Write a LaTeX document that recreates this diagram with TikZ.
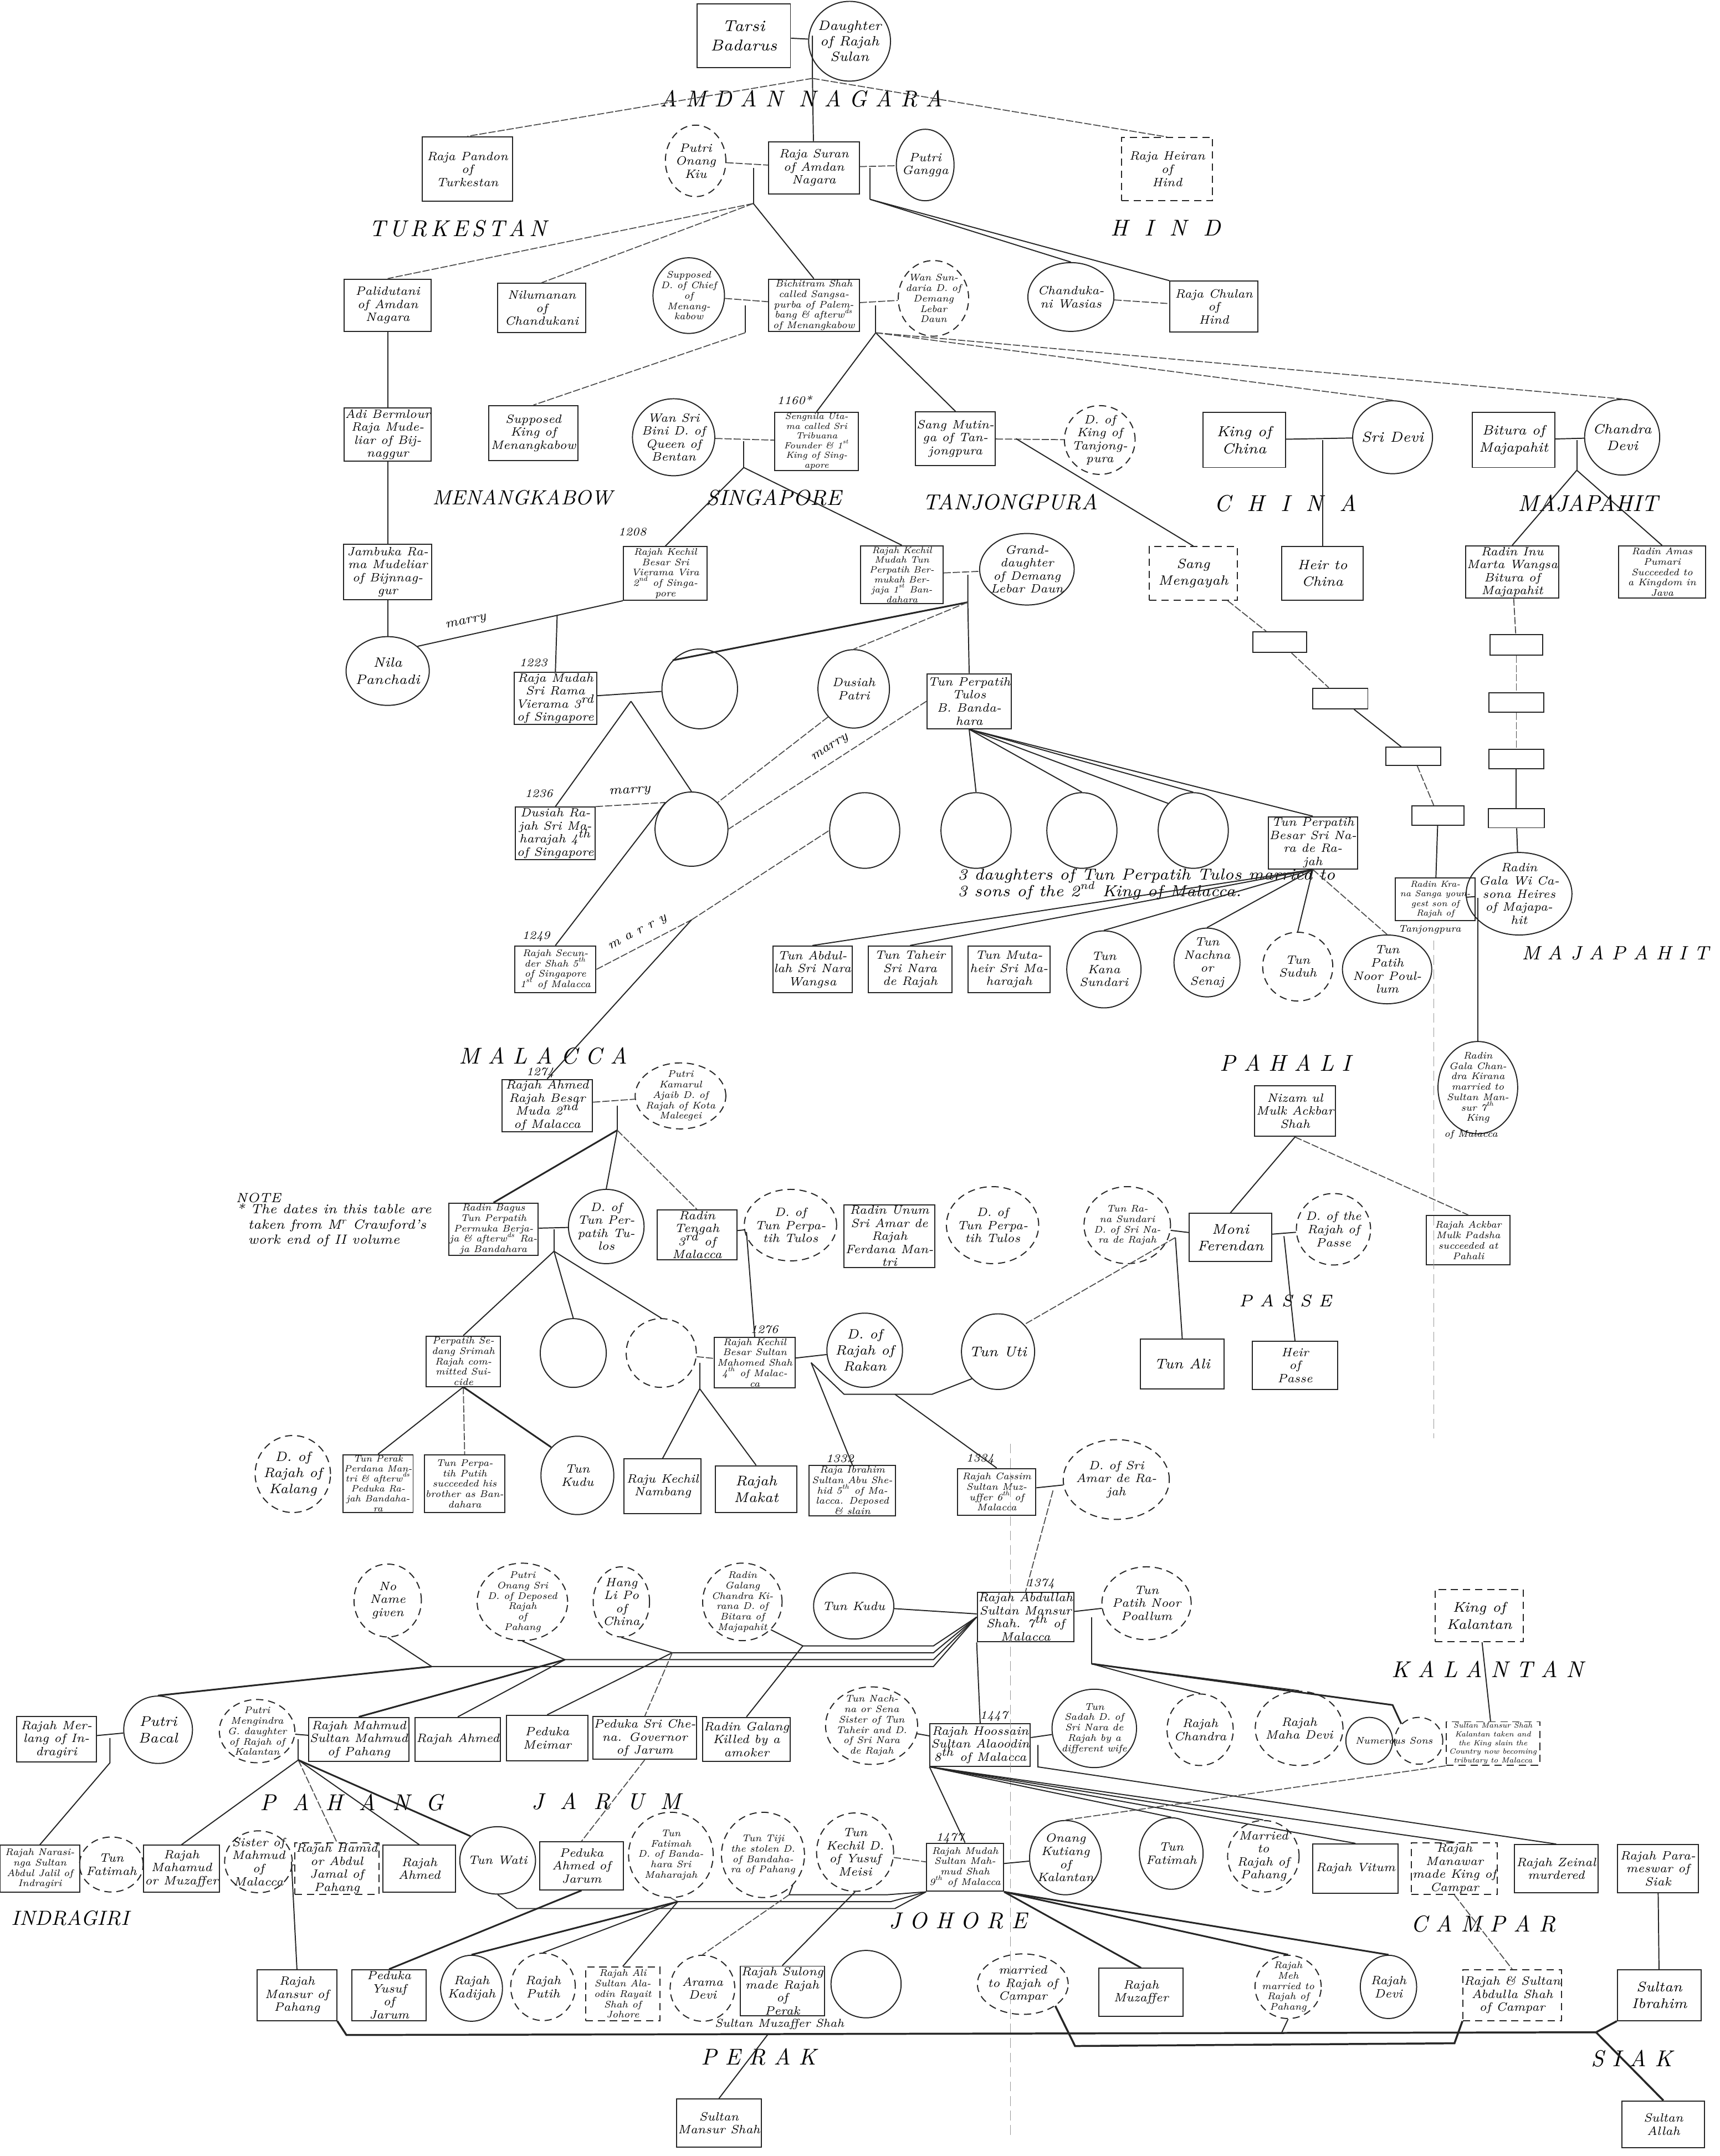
\documentclass[tikz,border=0pt]{standalone}
\usepackage{tikz}
\usetikzlibrary{shapes.geometric,calc}
\newcommand{\sps}[1]{\smash{\textsuperscript{#1}}}
\tikzset{
  kin/.style  ={rectangle, draw=black!85, line width=0.45pt, inner sep=0.4pt,
                align=center, font=\itshape\fontsize{5}{5.4}\selectfont},
  wife/.style ={ellipse, draw=black!85, line width=0.45pt, inner sep=-1.2pt,
                align=center, font=\itshape\fontsize{5}{5.4}\selectfont},
  veil/.style ={densely dashed},
  sz/.style 2 args={minimum width=#1*0.2mm, minimum height=#2*0.2mm},
  dense/.style={font=\itshape\fontsize{4}{4.3}\selectfont},
  tie/.style  ={draw=black!85, line width=0.45pt},
  wed/.style  ={draw=black!70, line width=0.4pt, dash pattern=on 3pt off 0.8pt},
  realm/.style={font=\itshape\fontsize{9.5}{10}\selectfont},
  yr/.style   ={font=\itshape\fontsize{4.8}{5}\selectfont},
  guide/.style={draw=black!40, line width=0.3pt, dash pattern=on 4pt off 2pt}
}

\begin{document}
\begin{tikzpicture}[x=0.2mm, y=-0.2mm]
  \useasboundingbox[fill=white] (0,0) rectangle (1251,1568);

  \node[kin, sz={68}{46}, font=\itshape\fontsize{6.5}{8}\selectfont] (tarsi) at (541,26) {Tarsi\\Badarus};
  \node[wife, sz={54}{58}, font=\itshape\fontsize{5.6}{6.4}\selectfont] (dSulan) at (618,30) {Daughter\\of Rajah\\Sulan};
  \node[kin, sz={66}{47}] (pandon) at (340,123) {Raja Pandon\\of\\Turkestan};
  \node[wife, veil, sz={44}{52}] (onangKiu) at (506,117) {Putri\\Onang\\Kiu};
  \node[kin, sz={66}{38}] (suran) at (592,122) {Raja Suran\\of Amdan\\Nagara};
  \node[wife, sz={42}{52}] (gangga) at (673,120) {Putri\\Gangga};
  \node[kin, veil, sz={66}{46}] (heiran) at (849,123) {Raja Heiran\\of\\Hind};

  \node[kin, sz={63}{38}] (palidutani) at (282,222) {Palidutani\\of Amdan\\Nagara};
  \node[kin, sz={64}{36}] (nilumanan) at (394,224) {Nilumanan\\of\\Chandukani};
  \node[wife, dense, sz={52}{55}] (supposedD) at (501,215) {Supposed\\D. of Chief\\of\\Menang-\\kabow};
  \node[kin, dense, sz={66}{35}] (bichitram) at (592,222) {Bichitram Shah\\called Sangsa-\\purba of Palem-\\bang \& afterw\sps{ds}\\of Menangkabow};
  \node[wife, dense, veil, sz={47}{55}] (wanSundaria) at (679,217) {Wan Sun-\\daria D. of\\Demang\\Lebar\\Daun};
  \node[wife, sz={43}{50}] (chandukani) at (779,216) {Chanduka-\\ni Wasias};
  \node[kin, sz={64}{37}] (chulan) at (883,223) {Raja Chulan\\of\\Hind};

  \node[kin, sz={63}{39}] (adiBermlour) at (282,316) {Adi Bermlour\\Raja Mude-\\liar of Bij-\\naggur};
  \node[kin, sz={65}{40}] (supKing) at (388,315) {Supposed\\King of\\Menangkabow};
  \node[wife, sz={54}{56}] (wanSriBini) at (490,318) {Wan Sri\\Bini D. of\\Queen of\\Bentan};
  \node[kin, font=\itshape\fontsize{3.7}{4}\selectfont, sz={61}{42}] (sengnila) at (594,321) {Sengnila Uta-\\ma called Sri\\Tribuana\\Founder \& 1\sps{st}\\King of Sing-\\apore};
  \node[kin, sz={54}{39}] (sangMutinga) at (695,319) {Sang Mutin-\\ga of Tan-\\jongpura};
  \node[wife, veil, sz={41}{50}] (dTanjong) at (800,320) {D. of\\King of\\Tanjong-\\pura};
  \node[kin, sz={60}{40}, font=\itshape\fontsize{6}{7}\selectfont] (kingChina) at (905,320) {King of\\China};
  \node[wife, sz={50}{53}, font=\itshape\fontsize{6}{7}\selectfont] (sriDevi) at (1013,318) {Sri Devi};
  \node[kin, sz={60}{40}, font=\itshape\fontsize{5.6}{7}\selectfont] (bitura) at (1101,320) {Bitura of\\Majapahit};
  \node[wife, sz={45}{55}, font=\itshape\fontsize{5.6}{7}\selectfont] (chandraDevi) at (1180,318) {Chandra\\Devi};

  \node[kin, sz={64}{40}] (jambuka) at (282,416) {Jambuka Ra-\\ma Mudeliar\\of Bijnnag-\\gur};
  \node[kin, dense, sz={61}{39}] (kechilBesar) at (484,417) {Rajah Kechil\\Besar Sri\\Vierama Vira\\2\sps{nd} of Singa-\\pore};
  \node[kin, font=\itshape\fontsize{3.8}{4.1}\selectfont, sz={60}{39}] (kechilMuda) at (656,418) {Rajah Kechil\\Mudah Tun\\Perpatih Ber-\\mukah Ber-\\jaja 1\sps{st} Ban-\\dahara};
  \node[wife, sz={50}{52}] (grandD) at (747,414) {Grand-\\daughter\\of Demang\\Lebar Daun};
  \node[kin, veil, sz={64}{39}, font=\itshape\fontsize{5.6}{7}\selectfont] (mengayah) at (868,417) {Sang\\Mengayah};
  \node[kin, sz={59}{39}, font=\itshape\fontsize{5.6}{7}\selectfont] (heirChina) at (962,417) {Heir to\\China};
  \node[kin, sz={62}{38}] (radinInu) at (1100,416) {Radin Inu\\Marta Wangsa\\Bitura of\\Majapahit};
  \node[kin, dense, sz={63}{38}] (radinAmas) at (1209,416) {Radin Amas\\Pumari\\Succeeded to\\a Kingdom in\\Java};

  \node[kin, sz={39}{15}] (tb1) at (931,467) {};
  \node[kin, sz={40}{15}] (tb2) at (975,508) {};
  \node[kin, sz={40}{13}] (tb3) at (1028,550) {};
  \node[kin, sz={38}{14}] (tb4) at (1046,593) {};
  \node[kin, sz={38}{15}] (mb1) at (1103,469) {};
  \node[kin, sz={40}{14}] (mb2) at (1103,511) {};
  \node[kin, sz={40}{14}] (mb3) at (1103,552) {};
  \node[kin, sz={41}{14}] (mb4) at (1103,595) {};

  \node[wife, sz={50}{50}, font=\itshape\fontsize{5.6}{7}\selectfont] (nila) at (282,488) {Nila\\Panchadi};
  \node[kin, sz={60}{37}] (rajaMudah3) at (404,508) {Raja Mudah\\Sri Rama\\Vierama 3\sps{rd}\\of Singapore};
  \node[wife, sz={55}{58}] (circA) at (509,501) {};
  \node[wife, sz={52}{57}] (dusiahPatri) at (621,501) {Dusiah\\Patri};
  \node[kin, sz={61}{40}] (tulos) at (705,510) {Tun Perpatih\\Tulos\\B. Banda-\\hara};

  \node[kin, sz={58}{38}] (dusiahRajah) at (404,606) {Dusiah Ra-\\jah Sri Ma-\\harajah 4\sps{th}\\of Singapore};
  \node[wife, sz={53}{54}] (circB) at (503,603) {};
  \node[wife, sz={51}{55}] (circC) at (629,604) {};
  \node[wife, sz={51}{55}] (circD) at (710,604) {};
  \node[wife, sz={51}{55}] (circE) at (787,604) {};
  \node[wife, sz={51}{55}] (circF) at (868,604) {};
  \node[kin, sz={62}{38}] (perpatihBesar) at (955,613) {Tun Perpatih\\Besar Sri Na-\\ra de Ra-\\jah};
  \node[align=left, font=\itshape\fontsize{6.6}{7}\selectfont] (note3) at (834,643) {3 daughters of Tun Perpatih Tulos married to\\3 sons of the 2\sps{nd} King of Malacca.};
  \node[kin, font=\itshape\fontsize{3.6}{4}\selectfont, sz={58}{31}] (radinKrana) at (1044,654) {Radin Kra-\\na Sanga youn-\\gest son of\\Rajah of};
  \node[dense] (kranaTxt) at (1040,676) {Tanjongpura};
  \node[wife, sz={58}{60}] (radinGala) at (1105,650) {Radin\\Gala Wi Ca-\\sona Heires\\of Majapa-\\hit};

  \node[yr] (yr1249) at (390,681) {1249};
  \node[kin, dense, sz={59}{34}] (secunder) at (404,705) {Rajah Secun-\\der Shah 5\sps{th}\\of Singapore\\1\sps{st} of Malacca};
  \node[kin, sz={57}{34}] (abdullahW) at (591,705) {Tun Abdul-\\lah Sri Nara\\Wangsa};
  \node[kin, sz={61}{34}] (taheir) at (662,705) {Tun Taheir\\Sri Nara\\de Rajah};
  \node[kin, sz={60}{34}] (mutaheir) at (734,705) {Tun Muta-\\heir Sri Ma-\\harajah};
  \node[wife, sz={54}{56}] (kanaSundari) at (803,705) {Tun\\Kana\\Sundari};
  \node[wife, sz={48}{50}] (nachna) at (878,700) {Tun\\Nachna\\or\\Senaj};
  \node[wife, veil, sz={51}{50}] (suduh) at (944,703) {Tun\\Suduh};
  \node[wife, sz={51}{50}] (noorPoulum) at (1009,705) {Tun\\Patih\\Noor Poul-\\lum};

  \node[wife, dense, sz={56}{56}] (radinGalaChandra) at (1075,791) {Radin\\Gala Chan-\\dra Kirana\\married to\\Sultan Man-\\sur 7\sps{th}\\King};
  \node[dense] (galaTxt) at (1070,825) {of Malacca};
  \node[kin, sz={59}{37}] (nizam) at (942,808) {Nizam ul\\Mulk Ackbar\\Shah};

  \node[yr] (yr1274) at (393,780) {1274};
  \node[kin, sz={66}{34}] (rajahAhmed) at (398,804) {Rajah Ahmed\\Rajah Besar\\Muda 2\sps{nd}\\of Malacca};
  \node[wife, dense, veil, sz={50}{48}] (putriKamar) at (495,797) {Putri\\Kamarul\\Ajaib D. of\\Rajah of Kota\\Maleegei};
  \node[font=\itshape\fontsize{5.5}{6}\selectfont] (noteHead) at (188,871) {NOTE};
  \node[align=left, font=\itshape\fontsize{5.5}{6.4}\selectfont] (noteBody) at (243,891) {* The dates in this table are\\\ \ taken from M\sps{r} Crawford's\\\ \ work end of II volume};
  \node[kin, dense, sz={62}{30}] (radinBagus) at (359,894) {Radin Bagus\\Tun Perpatih\\Permuka Berja-\\ja \& afterw\sps{ds} Ra-\\ja Bandahara};
  \node[wife, sz={55}{54}] (dTulos1) at (441,892) {D. of\\Tun Per-\\patih Tu-\\los};
  \node[kin, sz={58}{35}] (radinTengah) at (507,898) {Radin\\Tengah\\3\sps{rd} of\\Malacca};
  \node[wife, veil, sz={56}{52}] (dTulos2) at (575,891) {D. of\\Tun Perpa-\\tih Tulos};
  \node[kin, sz={66}{36}] (radinUnum) at (647,899) {Radin Unum\\Sri Amar de\\Rajah\\Ferdana Man-\\tri};
  \node[wife, veil, sz={55}{56}] (dTulos3) at (722,891) {D. of\\Tun Perpa-\\tih Tulos};
  \node[wife, dense, veil, sz={52}{56}] (ranaSundari) at (820,891) {Tun Ra-\\na Sundari\\D. of Sri Na-\\ra de Rajah};
  \node[kin, sz={60}{35}, font=\itshape\fontsize{5.8}{7}\selectfont] (moni) at (895,900) {Moni\\Ferendan};
  \node[wife, veil, sz={54}{52}] (dPasse) at (970,894) {D. of the\\Rajah of\\Passe};
  \node[kin, dense, sz={61}{36}] (ackbar) at (1068,902) {Rajah Ackbar\\Mulk Padsha\\succeeded at\\Pahali};

  \node[kin, dense, sz={54}{35}] (perpatihSedang) at (337,990) {Perpatih Se-\\dang Srimah\\Rajah com-\\mitted Sui-\\cide};
  \node[wife, sz={48}{50}] (circG) at (417,984) {};
  \node[wife, veil, sz={51}{50}] (circH) at (481,984) {};
  \node[yr] (yr1276) at (556,967) {1276};
  \node[kin, dense, sz={59}{36}] (mahomedShah) at (549,991) {Rajah Kechil\\Besar Sultan\\Mahomed Shah\\4\sps{th} of Malac-\\ca};
  \node[wife, sz={55}{54}, font=\itshape\fontsize{5.6}{6.6}\selectfont] (dRakan) at (629,982) {D. of\\Rajah of\\Rakan};
  \node[wife, sz={51}{55}, font=\itshape\fontsize{5.8}{7}\selectfont] (tunUti) at (726,983) {Tun Uti};
  \node[kin, sz={61}{36}, font=\itshape\fontsize{5.8}{7}\selectfont] (tunAli) at (860,992) {Tun Ali};
  \node[kin, sz={62}{35}] (heirPasse) at (942,993) {Heir\\of\\Passe};

  \node[wife, veil, sz={54}{56}, font=\itshape\fontsize{5.6}{6.6}\selectfont] (dKalang) at (213,1072) {D. of\\Rajah of\\Kalang};
  \node[kin, font=\itshape\fontsize{3.8}{4.1}\selectfont, sz={51}{42}] (tunPerak) at (275,1079) {Tun Perak\\Perdana Man-\\tri \& afterw\sps{ds}\\Peduka Ra-\\jah Bandaha-\\ra};
  \node[kin, dense, sz={52}{42}] (tunPutih) at (338,1079) {Tun Perpa-\\tih Putih\\succeeded his\\brother as Ban-\\dahara};
  \node[wife, sz={53}{57}] (tunKudu1) at (420,1073) {Tun\\Kudu};
  \node[kin, sz={56}{40}] (rajuKechil) at (482,1081) {Raju Kechil\\Nambang};
  \node[kin, sz={59}{34}, font=\itshape\fontsize{5.8}{7}\selectfont] (rajahMakat) at (550,1083) {Rajah\\Makat};
  \node[yr] (yr1332) at (611,1061) {1332};
  \node[kin, dense, sz={63}{33}] (rajahIbrahim) at (620,1084) {Raja Ibrahim\\Sultan Abu She-\\hid 5\sps{th} of Ma-\\lacca. Deposed\\\& slain};
  \node[yr] (yr1334) at (713,1061) {1334};
  \node[kin, dense, sz={57}{34}] (rajahCassim) at (725,1085) {Rajah Cassim\\Sultan Muz-\\uffer 6\sps{th} of\\Malacca};
  \node[wife, veil, sz={58}{58}] (dSriAmar) at (812,1076) {D. of Sri\\Amar de Ra-\\jah};

  \node[wife, veil, sz={49}{53}] (noName) at (282,1164) {No\\Name\\given};
  \node[wife, dense, veil, sz={49}{51}] (putriOnang) at (380,1165) {Putri\\Onang Sri\\D. of Deposed\\Rajah\\of\\Pahang};
  \node[wife, veil, sz={41}{51}] (hangLiPo) at (452,1165) {Hang\\Li Po\\of\\China};
  \node[wife, dense, veil, sz={49}{51}] (radinGalang) at (540,1165) {Radin\\Galang\\Chandra Ki-\\rana D. of\\Bitara of\\Majapahit};
  \node[wife, sz={58}{48}] (tunKudu2) at (621,1168) {Tun Kudu};
  \node[yr] (yr1374) at (757,1152) {1374};
  \node[kin, sz={63}{36}] (abdullah) at (746,1176) {Rajah Abdullah\\Sultan Mansur\\Shah. 7\sps{th} of\\Malacca};
  \node[wife, veil, sz={49}{53}] (noorPoallum) at (834,1166) {Tun\\Patih Noor\\Poallum};
  \node[kin, veil, sz={64}{38}, font=\itshape\fontsize{5.8}{7}\selectfont] (kingKalantan) at (1076,1175) {King of\\Kalantan};

  \node[kin, sz={58}{33}] (merlang) at (41,1265) {Rajah Mer-\\lang of In-\\dragiri};
  \node[wife, sz={50}{49}, font=\itshape\fontsize{5.8}{7}\selectfont] (putriBacal) at (115,1258) {Putri\\Bacal};
  \node[wife, dense, veil, sz={50}{46}] (mengindra) at (187,1259) {Putri\\Mengindra\\G. daughter\\of Rajah of\\Kalantan};
  \node[kin, sz={68}{32}] (mahmudP) at (261,1265) {Rajah Mahmud\\Sultan Mahmud\\of Pahang};
  \node[kin, sz={58}{32}] (ahmedP) at (333,1265) {Rajah Ahmed};
  \node[kin, sz={59}{33}] (meimar) at (398,1264) {Peduka\\Meimar};
  \node[kin, sz={62}{31}] (sriChena) at (469,1264) {Peduka Sri Che-\\na. Governor\\of Jarum};
  \node[kin, sz={63}{32}] (galangK) at (543,1265) {Radin Galang\\Killed by a\\amoker};
  \node[wife, dense, veil, sz={59}{52}] (nachnaS) at (634,1255) {Tun Nach-\\na or Sena\\Sister of Tun\\Taheir and D.\\of Sri Nara\\de Rajah};
  \node[yr] (yr1447) at (723,1248) {1447};
  \node[kin, sz={60}{31}] (hoossain) at (713,1269) {Rajah Hoossain\\Sultan Alaoodin\\8\sps{th} of Malacca};
  \node[wife, dense, sz={54}{57}] (tunSadah) at (796,1257) {Tun\\Sadah D. of\\Sri Nara de\\Rajah by a\\different wife};
  \node[wife, veil, sz={43}{52}] (rajahChandra) at (873,1258) {Rajah\\Chandra};
  \node[wife, veil, sz={45}{54}] (mahaDevi) at (945,1257) {Rajah\\Maha Devi};
  \node[wife, sz={34}{34}] (sonsA) at (996,1266) {};
  \node[wife, veil, sz={35}{34}] (sonsB) at (1032,1266) {};
  \node[dense] (sonsTxt) at (1014,1266) {Numerous Sons};
  \node[kin, veil, sz={68}{31}, font=\itshape\fontsize{3.1}{3.6}\selectfont] (mansurShahK) at (1086,1268) {Sultan Mansur Shah\\Kalantan taken and\\the King slain the\\Country now becoming\\tributary to Malacca};

  \node[kin, dense, sz={58}{34}] (narasinga) at (29,1359) {Rajah Narasi-\\nga Sultan\\Abdul Jalil of\\Indragiri};
  \node[wife, veil, sz={39}{40}] (fatimahI) at (81,1356) {Tun\\Fatimah};
  \node[kin, sz={55}{34}] (mahamud) at (132,1359) {Rajah\\Mahamud\\or Muzaffer};
  \node[wife, veil, sz={44}{45}] (sisterM) at (188,1354) {Sister of\\Mahmud\\of\\Malacca};
  \node[kin, veil, sz={51}{34}] (hamid) at (245,1359) {Rajah Hamid\\or Abdul\\Jamal of\\Pahang};
  \node[kin, sz={53}{34}] (ahmedR) at (305,1359) {Rajah\\Ahmed};
  \node[wife, sz={43}{49}] (tunWati) at (362,1353) {Tun Wati};
  \node[kin, sz={61}{35}] (pedukaAhmed) at (423,1357) {Peduka\\Ahmed of\\Jarum};
  \node[wife, dense, veil, sz={51}{62}] (fatimahB) at (488,1349) {Tun\\Fatimah\\D. of Banda-\\hara Sri\\Maharajah};
  \node[wife, dense, veil, sz={54}{62}] (tunTiji) at (555,1349) {Tun Tiji\\the stolen D.\\of Bandaha-\\ra of Pahang};
  \node[wife, veil, sz={56}{57}] (tunKechil) at (622,1347) {Tun\\Kechil D.\\of Yusuf\\Meisi};
  \node[yr] (yr1477) at (691,1337) {1477};
  \node[kin, dense, sz={56}{35}] (rajahMudah9) at (702,1358) {Rajah Mudah\\Sultan Mah-\\mud Shah\\9\sps{th} of Malacca};
  \node[wife, sz={47}{54}] (onangKutiang) at (775,1351) {Onang\\Kutiang\\of\\Kalantan};
  \node[wife, sz={45}{52}] (fatimahK) at (852,1348) {Tun\\Fatimah};
  \node[wife, veil, sz={52}{52}] (marriedPahang) at (919,1350) {Married\\to\\Rajah of\\Pahang};
  \node[kin, sz={62}{36}] (vitum) at (986,1359) {Rajah Vitum};
  \node[kin, veil, sz={62}{36}] (manawar) at (1058,1359) {Rajah\\Manawar\\made King of\\Campar};
  \node[kin, sz={61}{35}] (zeinal) at (1132,1359) {Rajah Zeinal\\murdered};
  \node[kin, sz={59}{35}] (paramaswar) at (1206,1359) {Rajah Para-\\meswar of\\Siak};

  \node[kin, sz={58}{37}] (mansurP) at (216,1451) {Rajah\\Mansur of\\Pahang};
  \node[kin, sz={54}{37}] (pedukaYusuf) at (283,1451) {Peduka\\Yusuf\\of\\Jarum};
  \node[wife, sz={45}{48}] (kadijah) at (343,1446) {Rajah\\Kadijah};
  \node[wife, veil, sz={47}{49}] (putih) at (395,1445) {Rajah\\Putih};
  \node[kin, dense, veil, sz={54}{39}] (rajahAli) at (453,1450) {Rajah Ali\\Sultan Ala-\\odin Rayait\\Shah of\\Johore};
  \node[wife, veil, sz={47}{48}] (aramaDevi) at (511,1446) {Arama\\Devi};
  \node[kin, sz={52}{34}] (sulong) at (569,1448) {Rajah Sulong\\made Rajah\\of\\Perak};
  \node[font=\itshape\fontsize{4.8}{5}\selectfont] (muzShahTxt) at (567,1472) {Sultan Muzaffer Shah};
  \node[wife, sz={51}{49}] (circJ) at (630,1443) {};
  \node[wife, veil, sz={43}{44}] (marriedCampar) at (744,1443) {married\\to Rajah of\\Campar};
  \node[kin, sz={61}{35}] (muzaffer) at (830,1449) {Rajah\\Muzaffer};
  \node[wife, dense, veil, sz={43}{46}] (rajahMeh) at (937,1445) {Rajah\\Meh\\married to\\Rajah of\\Pahang};
  \node[wife, sz={41}{46}] (rajahDevi) at (1010,1445) {Rajah\\Devi};
  \node[kin, veil, sz={64}{37}] (abdullaShah) at (1100,1451) {Rajah \& Sultan\\Abdulla Shah\\of Campar};
  \node[kin, sz={61}{37}, font=\itshape\fontsize{5.8}{7}\selectfont] (ibrahim) at (1207,1451) {Sultan\\Ibrahim};
  \node[kin, sz={60}{35}] (mansurShah) at (523,1544) {Sultan\\Mansur Shah};
  \node[kin, sz={60}{34}] (sultanAllah) at (1210,1545) {Sultan\\Allah};

  \node[realm] (amdan) at (583,72) {A M D A N \ N A G A R A};
  \node[realm] (turkestan) at (333,166) {T\,U\,R\,K\,E\,S\,T\,A\,N};
  \node[realm] (hind) at (848,166) {H \ I \ N \ D};
  \node[realm, font=\itshape\fontsize{8.5}{9}\selectfont] (menang) at (380,362) {MENANGKABOW};
  \node[realm, font=\itshape\fontsize{9}{9}\selectfont] (singapore) at (563,362) {SINGAPORE};
  \node[realm, font=\itshape\fontsize{9}{9}\selectfont] (tanjongpura) at (735,365) {TANJONGPURA};
  \node[realm] (china) at (935,366) {C \ H \ I \ N \ A};
  \node[realm] (majapahitT) at (1155,366) {MAJAPAHIT};
  \node[realm, font=\itshape\fontsize{8}{8}\selectfont] (majapahitB) at (1175,693) {M A J A P A H I T};
  \node[realm] (malacca) at (395,768) {M A L A C C A};
  \node[realm] (pahali) at (935,773) {P A H A L I};
  \node[realm, font=\itshape\fontsize{7}{7}\selectfont] (passe) at (935,946) {P A S S E};
  \node[realm] (kalantan) at (1082,1214) {K A L A N T A N};
  \node[realm] (pahang) at (256,1311) {P \ A \ H \ A \ N \ G};
  \node[realm] (jarum) at (441,1310) {J \ A \ R \ U \ M};
  \node[realm, font=\itshape\fontsize{8.5}{9}\selectfont, anchor=west] (indragiri) at (2,1395) {INDRAGIRI};
  \node[realm] (johore) at (697,1397) {J O H O R E};
  \node[realm] (campar) at (1079,1399) {C A M P A R};
  \node[realm] (perak) at (552,1496) {P E R A K};
  \node[realm] (siak) at (1187,1497) {S I A K};
  \node[yr] (yr1160) at (578,291) {1160*};
  \node[yr] (yr1208) at (460,387) {1208};
  \node[yr] (yr1223) at (388,482) {1223};
  \node[yr] (yr1236) at (392,577) {1236};

  \coordinate (j0)  at (591,57);
  \coordinate (j1)  at (548,148);
  \coordinate (j2)  at (633,145);
  \coordinate (j3)  at (542,242);
  \coordinate (j4)  at (637,242);
  \coordinate (j5)  at (541,340);
  \coordinate (j6)  at (739,319);
  \coordinate (j7)  at (962,320);
  \coordinate (j8)  at (1147,342);
  \coordinate (j9)  at (704,438);
  \coordinate (j11) at (1075,653);
  \coordinate (j12) at (459,510);
  \coordinate (jSec) at (503,669);
  \coordinate (j13) at (449,822);
  \coordinate (j14) at (403,910);
  \coordinate (j15) at (543,896);
  \coordinate (j16) at (855,900);
  \coordinate (j17) at (934,899);
  \coordinate (j18) at (509,1010);
  \coordinate (k1)  at (590,991);
  \coordinate (k2)  at (614,1014);
  \coordinate (k3)  at (678,1014);
  \coordinate (k4)  at (651,1014);
  \coordinate (j20) at (766,1084);
  \coordinate (guideA) at (1043,684);
  \coordinate (guideB) at (1043,1046);
  \coordinate (guideC) at (735,1050);
  \coordinate (guideD) at (735,1555);

  \draw[guide] (guideA) -- (guideB);
  \draw[guide] (guideC) -- (guideD);

  \draw[tie] (tarsi) -- (dSulan);
  \draw[tie] (j0 |- tarsi) -- (j0) -- (suran);
  \draw[wed] (j0) -- (pandon.north);
  \draw[wed] (j0) -- (heiran.north);
  \draw[wed] (onangKiu) -- (suran);
  \draw[wed] (suran) -- (gangga);
  \draw[tie] (j1 |- suran) -- (j1);
  \draw[wed] (j1) -- (palidutani.north);
  \draw[wed] (j1) -- (nilumanan.north);
  \draw[tie] (j1) -- (bichitram.north);
  \draw[tie] (j2 |- suran) -- (j2);
  \draw[tie] (j2) -- (chandukani.north);
  \draw[tie] (j2) -- (chulan.north west);
  \draw[wed] (supposedD) -- (bichitram);
  \draw[wed] (bichitram) -- (wanSundaria);
  \draw[wed] (chandukani) -- (chulan);
  \draw[tie] (j3 |- bichitram) -- (j3);
  \draw[wed] (j3) -- (supKing.north);
  \draw[tie] (j4 |- bichitram) -- (j4);
  \draw[tie] (j4) -- (sengnila.north);
  \draw[tie] (j4) -- (sangMutinga.north);
  \draw[wed] (j4) -- (sriDevi.north);
  \draw[wed] (j4) -- (chandraDevi.north);
  \draw[tie] (palidutani) -- (adiBermlour);
  \draw[tie] (adiBermlour) -- (jambuka);
  \draw[tie] (jambuka) -- (nila);

  \draw[wed] (wanSriBini) -- (sengnila);
  \draw[tie] (j5 |- sengnila) -- (j5);
  \draw[tie] (j5) -- (kechilBesar.north);
  \draw[tie] (j5) -- (kechilMuda.north);
  \draw[wed] (sangMutinga) -- (dTanjong);
  \draw[tie] (j6) -- (mengayah.north);
  \draw[tie] (kingChina) -- (sriDevi);
  \draw[tie] (j7) -- (heirChina.north);
  \draw[tie] (bitura) -- (chandraDevi);
  \draw[tie] (j8 |- bitura) -- (j8);
  \draw[tie] (j8) -- (radinInu.north);
  \draw[tie] (j8) -- (radinAmas.north);

  \draw[wed] (mengayah) -- (tb1);
  \draw[wed] (tb1) -- (tb2);
  \draw[tie] (tb2) -- (tb3);
  \draw[wed] (tb3) -- (tb4);
  \draw[tie] (tb4) -- (radinKrana);
  \draw[wed] (radinInu) -- (mb1);
  \draw[wed] (mb1) -- (mb2);
  \draw[wed] (mb2) -- (mb3);
  \draw[tie] (mb3) -- (mb4);
  \draw[tie] (mb4) -- (radinGala);
  \draw[tie] (radinKrana) -- (radinGala);
  \draw[tie] (j11) -- (radinGalaChandra.north);

  \draw[tie] (nila.north east) -- (kechilBesar.south west)
    node[pos=0.25, sloped, above, font=\itshape\fontsize{5.5}{6}\selectfont] {marry}
    coordinate[pos=0.68] (j10);
  \draw[tie] (j10) -- (rajaMudah3.north);
  \draw[wed] (kechilMuda) -- (grandD);
  \draw[tie] (j9 |- kechilMuda) -- (j9) -- (tulos.north);
  \draw[tie, line width=0.7pt] (j9) -- (circA.north west);
  \draw[wed] (j9) -- (dusiahPatri.north);

  \draw[tie] (rajaMudah3) -- (circA);
  \draw[tie] (j12) -- (dusiahRajah.north);
  \draw[tie] (j12) -- (circB.north);
  \draw[wed] (dusiahRajah.north east) -- (circB.north west)
    node[midway, sloped, above, font=\itshape\fontsize{5.5}{6}\selectfont] {marry};
  \draw[tie] (circB.north west) -- (secunder.north);
  \draw[wed] (dusiahPatri.south west) -- (circB.north east);
  \draw[wed] (tulos.west) -- (circB.east)
    node[pos=0.45, sloped, above, font=\itshape\fontsize{5.5}{6}\selectfont] {marry};
  \draw[wed] (secunder.east) -- (jSec)
    node[midway, sloped, above, font=\itshape\fontsize{5.5}{6}\selectfont] {m a r r y};
  \draw[wed] (jSec) -- (circC.west);
  \draw[tie] (jSec) -- (rajahAhmed.north);

  \draw[tie] (tulos.south) -- (circD.north);
  \draw[tie] (tulos.south) -- (circE.north);
  \draw[tie] (tulos.south) -- (circF.north west);
  \draw[tie] (tulos.south) -- (circF.north);
  \draw[tie] (tulos.south) -- (perpatihBesar.north);
  \draw[tie] (perpatihBesar.south) -- (abdullahW.north);
  \draw[tie] (perpatihBesar.south) -- (taheir.north);
  \draw[tie] (perpatihBesar.south) -- (kanaSundari.north);
  \draw[tie] (perpatihBesar.south) -- (nachna.north);
  \draw[tie] (perpatihBesar.south) -- (suduh.north);
  \draw[wed] (perpatihBesar.south) -- (noorPoulum.north);

  \draw[wed] (rajahAhmed) -- (putriKamar);
  \draw[tie] (j13 |- rajahAhmed) -- (j13);
  \draw[tie, line width=0.7pt] (j13) -- (radinBagus.north);
  \draw[tie] (j13) -- (dTulos1.north);
  \draw[wed] (j13) -- (radinTengah.north);
  \draw[tie] (radinBagus) -- (dTulos1);
  \draw[tie] (j14 |- radinBagus) -- (j14);
  \draw[tie] (j14) -- (perpatihSedang.north);
  \draw[tie] (j14) -- (circG.north);
  \draw[tie] (j14) -- (circH.north);
  \draw[tie] (radinTengah) -- (dTulos2);
  \draw[tie] (j15) -- (mahomedShah.north);

  \draw[tie] (nizam.south) -- (moni.north);
  \draw[wed] (nizam.south) -- (ackbar.north);
  \draw[tie] (ranaSundari) -- (moni);
  \draw[tie] (j16) -- (tunAli.north);
  \draw[wed] (j16) -- (tunUti.north east);
  \draw[tie] (moni) -- (dPasse);
  \draw[tie] (j17) -- (heirPasse.north);

  \draw[wed] (circH) -- (mahomedShah);
  \draw[tie] (j18 |- mahomedShah) -- (j18);
  \draw[tie] (j18) -- (rajuKechil.north);
  \draw[tie] (j18) -- (rajahMakat.north);
  \draw[tie] (mahomedShah) -- (dRakan);
  \draw[tie] (k1) -- (rajahIbrahim.north);
  \draw[tie] (k1) -- (k2) -- (k3) -- (tunUti.south west);
  \draw[tie] (k4) -- (rajahCassim.north);
  \draw[tie] (perpatihSedang.south) -- (tunPerak.north);
  \draw[wed] (perpatihSedang.south) -- (tunPutih.north);
  \draw[tie, line width=0.7pt] (perpatihSedang.south) -- (tunKudu1.north west);
  \draw[tie] (rajahCassim) -- (dSriAmar);
  \draw[wed] (j20) -- (abdullah.north);

  \coordinate (f1) at (679,1197);
  \coordinate (f2) at (679,1202);
  \coordinate (f3) at (679,1207);
  \coordinate (f4) at (679,1212);
  \coordinate (w1) at (584,1197);
  \coordinate (w2) at (489,1202);
  \coordinate (w3) at (411,1207);
  \coordinate (w4) at (314,1212);
  \coordinate (j21) at (80,1264);
  \coordinate (j22) at (80,1282);
  \coordinate (j23) at (217,1280);
  \coordinate (j25) at (755,1269);
  \coordinate (j26) at (755,1285);
  \coordinate (j27) at (794,1176);
  \coordinate (j28) at (794,1210);
  \coordinate (k5)  at (1013,1240);
  \coordinate (j29) at (212,1354);
  \coordinate (g1) at (645,1378);
  \coordinate (g2) at (648,1383);
  \coordinate (g3) at (651,1388);
  \coordinate (t1) at (574,1378);
  \coordinate (t2) at (493,1383);
  \coordinate (t3) at (376,1388);
  \coordinate (b1) at (252,1480);
  \coordinate (b2) at (1161,1478);
  \coordinate (b3) at (559,1479);
  \coordinate (b4) at (932,1479);
  \coordinate (b6) at (782,1488);
  \coordinate (b7) at (1058,1486);

  \draw[tie] (tunKudu2) -- (abdullah);
  \draw[tie] (abdullah) -- (noorPoallum);
  \draw[tie] (abdullah.west) -- (f1) -- (w1);
  \draw[tie] (abdullah.west) -- (f2) -- (w2);
  \draw[tie] (abdullah.west) -- (f3) -- (w3);
  \draw[tie] (abdullah.west) -- (f4) -- (w4);
  \draw[tie] (radinGalang.south east) -- (w1);
  \draw[tie] (hangLiPo.south) -- (w2);
  \draw[tie] (putriOnang.south) -- (w3);
  \draw[tie] (noName.south) -- (w4);
  \draw[tie, line width=0.7pt] (w4) -- (putriBacal.north);
  \draw[tie, line width=0.7pt] (w3) -- (mahmudP.north);
  \draw[tie] (w3) -- (ahmedP.north);
  \draw[tie] (w2) -- (meimar.north);
  \draw[wed] (w2) -- (sriChena.north);
  \draw[tie] (w1) -- (galangK.north);

  \draw[tie] (merlang) -- (putriBacal);
  \draw[tie] (j21) -- (j22) -- (narasinga.north);
  \draw[tie] (mengindra) -- (mahmudP);
  \draw[tie] (j23 |- mahmudP) -- (j23);
  \draw[tie] (j23) -- (mahamud.north);
  \draw[wed] (j23) -- (hamid.north);
  \draw[tie] (j23) -- (ahmedR.north);
  \draw[tie, line width=0.7pt] (j23) -- (tunWati.north west);
  \draw[wed] (sriChena.south) -- (pedukaAhmed.north);

  \draw[tie] (nachnaS) -- (hoossain);
  \draw[tie] (hoossain) -- (tunSadah);
  \draw[tie] (abdullah.south west) -- (hoossain.north);
  \draw[tie] (hoossain.south west) -- (rajahMudah9.north);
  \draw[tie] (hoossain.south west) -- (fatimahK.north);
  \draw[tie] (hoossain.south west) -- (marriedPahang.north);
  \draw[tie] (hoossain.south west) -- (vitum.north);
  \draw[tie] (hoossain.south west) -- (manawar.north);
  \draw[tie] (j25) -- (j26) -- (zeinal.north);
  \draw[tie] (j27) -- (j28);
  \draw[tie] (j28) -- (rajahChandra.north);
  \draw[tie] (j28) -- (mahaDevi.north);
  \draw[tie, line width=0.7pt] (j28) -- (k5) -- (sonsB.north west);
  \draw[tie] (kingKalantan) -- (mansurShahK);
  \draw[wed] (mansurShahK.south west) -- (onangKutiang.north);

  \draw[wed] (tunKechil) -- (rajahMudah9);
  \draw[tie] (rajahMudah9) -- (onangKutiang);
  \draw[tie] (rajahMudah9.south west) -- (g1) -- (t1);
  \draw[tie] (rajahMudah9.south west) -- (g2) -- (t2);
  \draw[tie] (rajahMudah9.south west) -- (g3) -- (t3);
  \draw[tie] (tunTiji.south east) -- (t1);
  \draw[wed] (fatimahB.south) -- (t2);
  \draw[tie] (tunWati.south) -- (t3);
  \draw[wed] (t1) -- (aramaDevi.north);
  \draw[tie, line width=0.7pt] (t2) -- (kadijah.north);
  \draw[tie] (t2) -- (putih.north);
  \draw[tie] (t2) -- (rajahAli.north);
  \draw[tie, line width=0.7pt] (pedukaAhmed.south) -- (pedukaYusuf.north);
  \draw[tie] (tunKechil.south) -- (sulong.north);
  \draw[wed] (sisterM) -- (hamid);
  \draw[tie] (j29) -- (mansurP.north);

  \draw[tie, line width=0.7pt] (rajahMudah9.south east) -- (muzaffer.north);
  \draw[tie, line width=0.7pt] (rajahMudah9.south east) -- (rajahMeh.north);
  \draw[tie, line width=0.7pt] (rajahMudah9.south east) -- (rajahDevi.north);
  \draw[wed] (manawar.south) -- (abdullaShah.north);
  \draw[tie] (paramaswar) -- (ibrahim);
  \draw[tie, line width=0.8pt] (mansurP.south east) -- (b1) -- (b2);
  \draw[tie, line width=0.8pt] (b2) -- (ibrahim.south west);
  \draw[tie, line width=0.8pt] (b2) -- (sultanAllah.north);
  \draw[tie] (b3) -- (mansurShah.north);
  \draw[tie] (rajahMeh.south) -- (b4);
  \draw[tie, line width=0.8pt] (marriedCampar.south east) -- (b6) -- (b7) -- (abdullaShah.south west);
\end{tikzpicture}
\end{document}
